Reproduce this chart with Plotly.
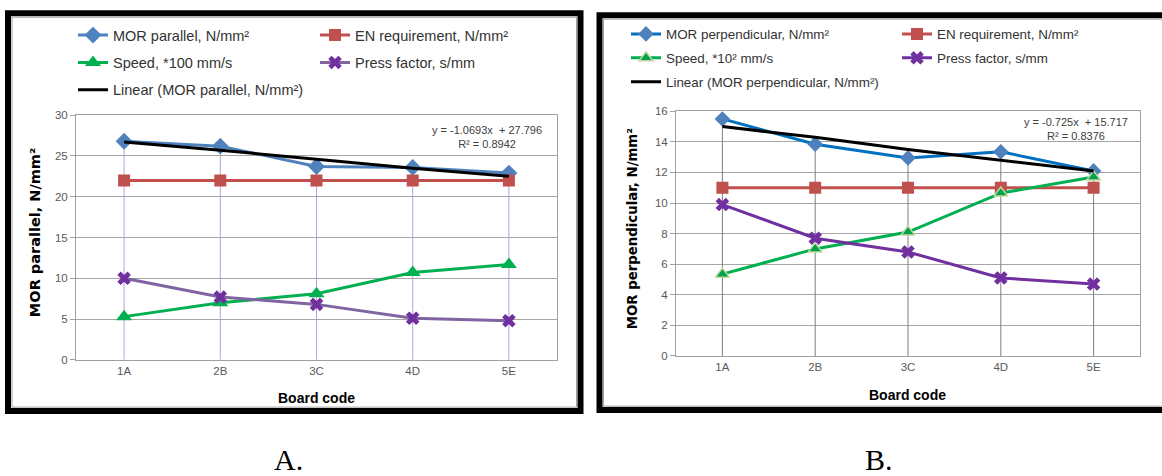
import plotly.graph_objects as go

W, H = 1162, 476

categories = ["1A", "2B", "3C", "4D", "5E"]

# Panel A (MOR parallel)
mor_parallel = [26.8, 26.2, 23.7, 23.6, 22.9]
en_req_a = [22, 22, 22, 22, 22]
speed_a = [5.3, 7.0, 8.1, 10.7, 11.7]
press_a = [10.0, 7.7, 6.8, 5.1, 4.8]
trend_a = [26.7, 25.7, 24.6, 23.5, 22.5]

# Panel B (MOR perpendicular)
mor_perp = [15.5, 13.85, 12.95, 13.35, 12.1]
en_req_b = [11, 11, 11, 11, 11]
speed_b = [5.35, 7.0, 8.1, 10.65, 11.7]
press_b = [9.9, 7.7, 6.8, 5.1, 4.7]
trend_b = [15.0, 14.3, 13.5, 12.8, 12.1]

eq_a = "y = -1.0693x  + 27.796<br>R² = 0.8942"
eq_b = "y = -0.725x  + 15.717<br>R² = 0.8376"


def px(x):
    return x / W


def py(y):
    return 1 - y / H


SANS = "Liberation Sans, Arial, sans-serif"
fig = go.Figure()


def drop_lines(series_list):
    xs, ys = [], []
    for i, c in enumerate(categories):
        top = max(s[i] for s in series_list)
        xs += [c, c, None]
        ys += [0, top, None]
    return xs, ys


# ---------- Panel A ----------
dx, dy = drop_lines([mor_parallel, en_req_a, speed_a, press_a])
fig.add_trace(go.Scatter(x=dx, y=dy, mode="lines", line=dict(color="#B7A3D6", width=1),
                         showlegend=False, hoverinfo="skip", xaxis="x", yaxis="y"))
fig.add_trace(go.Scatter(x=categories, y=mor_parallel, name="MOR parallel, N/mm²", mode="lines+markers",
                         line=dict(color="#4F81BD", width=3),
                         marker=dict(symbol="diamond", size=13, color="#4F81BD"),
                         xaxis="x", yaxis="y", legend="legend", legendgroup="a1"))
fig.add_trace(go.Scatter(x=categories, y=en_req_a, name="EN requirement, N/mm²", mode="lines+markers",
                         line=dict(color="#C0504D", width=3),
                         marker=dict(symbol="square", size=12, color="#C0504D"),
                         xaxis="x", yaxis="y", legend="legend2", legendgroup="a2"))
fig.add_trace(go.Scatter(x=categories, y=speed_a, name="Speed, *100 mm/s", mode="lines+markers",
                         line=dict(color="#00B050", width=3),
                         marker=dict(symbol="triangle-up", size=14, color="#00B050"),
                         xaxis="x", yaxis="y", legend="legend", legendgroup="a3"))
fig.add_trace(go.Scatter(x=categories, y=press_a, name="Press factor, s/mm", mode="lines+markers",
                         line=dict(color="#8064A2", width=3),
                         marker=dict(symbol="x", size=12, color="#7030A0"),
                         xaxis="x", yaxis="y", legend="legend2", legendgroup="a4"))
fig.add_trace(go.Scatter(x=categories, y=trend_a, name="Linear (MOR parallel, N/mm²)", mode="lines",
                         line=dict(color="#000000", width=3),
                         xaxis="x", yaxis="y", legend="legend", legendgroup="a5"))

# ---------- Panel B ----------
dx, dy = drop_lines([mor_perp, en_req_b, speed_b, press_b])
fig.add_trace(go.Scatter(x=dx, y=dy, mode="lines", line=dict(color="#808080", width=1),
                         showlegend=False, hoverinfo="skip", xaxis="x2", yaxis="y2"))
fig.add_trace(go.Scatter(x=categories, y=mor_perp, name="MOR perpendicular, N/mm²", mode="lines+markers",
                         line=dict(color="#0070C0", width=3),
                         marker=dict(symbol="diamond", size=12, color="#4F81BD"),
                         xaxis="x2", yaxis="y2", legend="legend3", legendgroup="b1"))
fig.add_trace(go.Scatter(x=categories, y=en_req_b, name="EN requirement, N/mm²", mode="lines+markers",
                         line=dict(color="#C0504D", width=3),
                         marker=dict(symbol="square", size=12, color="#C0504D"),
                         xaxis="x2", yaxis="y2", legend="legend4", legendgroup="b2"))
fig.add_trace(go.Scatter(x=categories, y=speed_b, name="Speed, *10² mm/s", mode="lines+markers",
                         line=dict(color="#00B050", width=3),
                         marker=dict(symbol="triangle-up", size=12, color="#00A050",
                                     line=dict(color="#C4D79B", width=1.5)),
                         xaxis="x2", yaxis="y2", legend="legend3", legendgroup="b3"))
fig.add_trace(go.Scatter(x=categories, y=press_b, name="Press factor, s/mm", mode="lines+markers",
                         line=dict(color="#7030A0", width=3),
                         marker=dict(symbol="x", size=12, color="#7030A0"),
                         xaxis="x2", yaxis="y2", legend="legend4", legendgroup="b4"))
fig.add_trace(go.Scatter(x=categories, y=trend_b, name="Linear (MOR perpendicular, N/mm²)", mode="lines",
                         line=dict(color="#000000", width=3),
                         xaxis="x2", yaxis="y2", legend="legend3", legendgroup="b5"))

axis_common = dict(showline=True, linecolor="#A0A0A0", linewidth=1, mirror=True,
                   tickfont=dict(family=SANS, size=11.5, color="#595959"))
xcommon = dict(axis_common, type="category", range=[-0.5, 4.5], showgrid=False, ticks="",
               fixedrange=True)
ycommon = dict(axis_common, showgrid=True, gridcolor="#A6A6A6", gridwidth=1, ticks="outside",
               ticklen=5, tickcolor="#A0A0A0", zeroline=False, fixedrange=True)

legend_common = dict(orientation="v", xanchor="left", yanchor="top", bgcolor="rgba(0,0,0,0)",
                     borderwidth=0, itemwidth=30, itemclick=False, itemdoubleclick=False)

fig.update_layout(
    width=W, height=H,
    margin=dict(l=0, r=0, t=0, b=0),
    paper_bgcolor="white", plot_bgcolor="white",
    font=dict(family=SANS, color="#404040"),
    xaxis=dict(xcommon, domain=[px(76), px(557)], anchor="y"),
    yaxis=dict(ycommon, domain=[py(363), py(112)], range=[0, 30], dtick=5, anchor="x"),
    xaxis2=dict(xcommon, domain=[px(676), px(1140)], anchor="y2"),
    yaxis2=dict(ycommon, domain=[py(359), py(108)], range=[0, 16], dtick=2, anchor="x2"),
    legend=dict(legend_common, x=px(73), y=py(13.5), tracegroupgap=5.5,
                font=dict(family=SANS, size=14.5, color="#333333")),
    legend2=dict(legend_common, x=px(315), y=py(13.5), tracegroupgap=5.5,
                 font=dict(family=SANS, size=14.5, color="#333333")),
    legend3=dict(legend_common, x=px(626), y=py(13), tracegroupgap=3.5,
                 font=dict(family=SANS, size=13.4, color="#333333")),
    legend4=dict(legend_common, x=px(897), y=py(13), tracegroupgap=3.5,
                 font=dict(family=SANS, size=13.4, color="#333333")),
    showlegend=True,
)

shapes = []
# Panel frames
shapes.append(dict(type="rect", xref="paper", yref="paper", x0=px(8), x1=px(580.5), y0=py(415.5), y1=py(7.5),
                   line=dict(color="black", width=6), fillcolor="rgba(0,0,0,0)", layer="above"))
shapes.append(dict(type="rect", xref="paper", yref="paper", x0=px(12), x1=px(576.5), y0=py(411.5), y1=py(11.5),
                   line=dict(color="#A0A0A0", width=1), fillcolor="rgba(0,0,0,0)", layer="above"))
shapes.append(dict(type="rect", xref="paper", yref="paper", x0=px(599.5), x1=px(1170), y0=py(414.5), y1=py(9.5),
                   line=dict(color="black", width=6), fillcolor="rgba(0,0,0,0)", layer="above"))
shapes.append(dict(type="rect", xref="paper", yref="paper", x0=px(603.5), x1=px(1170), y0=py(410.5), y1=py(13.5),
                   line=dict(color="#A0A0A0", width=1), fillcolor="rgba(0,0,0,0)", layer="above"))
fig.update_layout(shapes=shapes)

ann = []
ann.append(dict(text=eq_a, xref="paper", yref="paper", x=px(487), y=py(134), showarrow=False,
                xanchor="center", yanchor="middle", align="center",
                font=dict(family=SANS, size=11, color="#404040")))
ann.append(dict(text=eq_b, xref="paper", yref="paper", x=px(1076), y=py(126), showarrow=False,
                xanchor="center", yanchor="middle", align="center",
                font=dict(family=SANS, size=11, color="#404040")))
ann.append(dict(text="<b>MOR parallel, N/mm²</b>", xref="paper", yref="paper", x=px(35), y=py(233),
                textangle=-90, showarrow=False, xanchor="center", yanchor="middle",
                font=dict(family="DejaVu Sans", size=14.5, color="#000000")))
ann.append(dict(text="<b>MOR perpendicular, N/mm²</b>", xref="paper", yref="paper", x=px(632), y=py(229),
                textangle=-90, showarrow=False, xanchor="center", yanchor="middle",
                font=dict(family="DejaVu Sans", size=13.3, color="#000000")))
ann.append(dict(text="<b>Board code</b>", xref="paper", yref="paper", x=px(316), y=py(402),
                showarrow=False, xanchor="center", yanchor="middle",
                font=dict(family=SANS, size=14, color="#000000")))
ann.append(dict(text="<b>Board code</b>", xref="paper", yref="paper", x=px(907), y=py(399),
                showarrow=False, xanchor="center", yanchor="middle",
                font=dict(family=SANS, size=14, color="#000000")))
ann.append(dict(text="A.", xref="paper", yref="paper", x=px(288), y=py(465),
                showarrow=False, xanchor="center", yanchor="middle",
                font=dict(family="Liberation Serif, Times New Roman, serif", size=30, color="#000000")))
ann.append(dict(text="B.", xref="paper", yref="paper", x=px(879), y=py(465),
                showarrow=False, xanchor="center", yanchor="middle",
                font=dict(family="Liberation Serif, Times New Roman, serif", size=30, color="#000000")))
fig.update_layout(annotations=ann)

fig.write_html("out.html", config={"displayModeBar": False},
               post_script="document.body.style.margin='0';document.body.style.overflow='hidden';")
